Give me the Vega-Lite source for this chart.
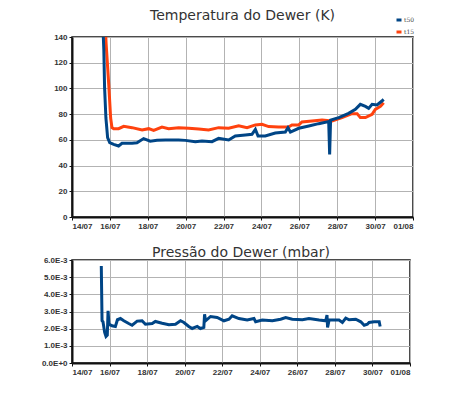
{
  "$schema": "https://vega.github.io/schema/vega-lite/v6.json",
  "background": "white",
  "padding": {"left": 40, "top": 8, "right": 5, "bottom": 5},
  "spacing": 14,
  "config": {
    "view": {"stroke": "#111", "strokeWidth": 1.5},
    "axis": {
      "labelFont": "Liberation Sans", "labelFontSize": 8, "labelFontWeight": "bold", "labelColor": "#333",
      "gridColor": "#b3b3b3", "gridWidth": 1, "domainColor": "#111", "domainWidth": 2,
      "tickColor": "#111", "tickSize": 3, "title": null
    },
    "title": {"font": "DejaVu Sans", "fontSize": 14, "fontWeight": "normal", "color": "#333"}
  },
  "datasets": {
    "temp": [
      {"serie": "t15", "dia": 15.72, "temp": 160},
      {"serie": "t15", "dia": 15.8, "temp": 135},
      {"serie": "t15", "dia": 15.94, "temp": 103},
      {"serie": "t15", "dia": 16.04, "temp": 77},
      {"serie": "t15", "dia": 16.11, "temp": 69.5},
      {"serie": "t15", "dia": 16.2, "temp": 68.7},
      {"serie": "t15", "dia": 16.46, "temp": 68.7},
      {"serie": "t15", "dia": 16.73, "temp": 70.5},
      {"serie": "t15", "dia": 17.17, "temp": 69.5},
      {"serie": "t15", "dia": 17.7, "temp": 67.7},
      {"serie": "t15", "dia": 18.05, "temp": 68.7},
      {"serie": "t15", "dia": 18.31, "temp": 67.4},
      {"serie": "t15", "dia": 18.75, "temp": 70},
      {"serie": "t15", "dia": 19.1, "temp": 68.7},
      {"serie": "t15", "dia": 19.63, "temp": 69.5},
      {"serie": "t15", "dia": 20.16, "temp": 69},
      {"serie": "t15", "dia": 20.69, "temp": 68.4},
      {"serie": "t15", "dia": 21.21, "temp": 67.7},
      {"serie": "t15", "dia": 21.74, "temp": 69.5},
      {"serie": "t15", "dia": 22.27, "temp": 69},
      {"serie": "t15", "dia": 22.8, "temp": 71},
      {"serie": "t15", "dia": 23.24, "temp": 69.5},
      {"serie": "t15", "dia": 23.68, "temp": 71.6},
      {"serie": "t15", "dia": 24.03, "temp": 72.1},
      {"serie": "t15", "dia": 24.38, "temp": 70.3},
      {"serie": "t15", "dia": 24.9, "temp": 70},
      {"serie": "t15", "dia": 25.43, "temp": 70},
      {"serie": "t15", "dia": 25.61, "temp": 71.6},
      {"serie": "t15", "dia": 25.97, "temp": 71.6},
      {"serie": "t15", "dia": 26.14, "temp": 73.9},
      {"serie": "t15", "dia": 26.67, "temp": 74.7},
      {"serie": "t15", "dia": 27.2, "temp": 75.4},
      {"serie": "t15", "dia": 27.73, "temp": 74.7},
      {"serie": "t15", "dia": 28.25, "temp": 77.3},
      {"serie": "t15", "dia": 28.78, "temp": 80.4},
      {"serie": "t15", "dia": 29.05, "temp": 80.4},
      {"serie": "t15", "dia": 29.22, "temp": 77.3},
      {"serie": "t15", "dia": 29.49, "temp": 77.3},
      {"serie": "t15", "dia": 29.84, "temp": 79.9},
      {"serie": "t15", "dia": 30.01, "temp": 83.7},
      {"serie": "t15", "dia": 30.28, "temp": 86},
      {"serie": "t15", "dia": 30.45, "temp": 88.9},
      {"serie": "t50", "dia": 15.6, "temp": 160},
      {"serie": "t50", "dia": 15.68, "temp": 130},
      {"serie": "t50", "dia": 15.72, "temp": 100.6},
      {"serie": "t50", "dia": 15.79, "temp": 77},
      {"serie": "t50", "dia": 15.88, "temp": 61.7},
      {"serie": "t50", "dia": 15.99, "temp": 57.8},
      {"serie": "t50", "dia": 16.2, "temp": 56.5},
      {"serie": "t50", "dia": 16.46, "temp": 55.2},
      {"serie": "t50", "dia": 16.64, "temp": 57.3},
      {"serie": "t50", "dia": 17.17, "temp": 57.3},
      {"serie": "t50", "dia": 17.43, "temp": 57.8},
      {"serie": "t50", "dia": 17.78, "temp": 61},
      {"serie": "t50", "dia": 18.13, "temp": 59},
      {"serie": "t50", "dia": 18.49, "temp": 59.6},
      {"serie": "t50", "dia": 18.93, "temp": 59.9},
      {"serie": "t50", "dia": 19.63, "temp": 59.9},
      {"serie": "t50", "dia": 19.98, "temp": 59.6},
      {"serie": "t50", "dia": 20.51, "temp": 58.6},
      {"serie": "t50", "dia": 20.86, "temp": 59.1},
      {"serie": "t50", "dia": 21.39, "temp": 58.6},
      {"serie": "t50", "dia": 21.74, "temp": 61.2},
      {"serie": "t50", "dia": 22.27, "temp": 59.9},
      {"serie": "t50", "dia": 22.62, "temp": 63},
      {"serie": "t50", "dia": 23.15, "temp": 63.8},
      {"serie": "t50", "dia": 23.5, "temp": 64.3},
      {"serie": "t50", "dia": 23.68, "temp": 68.2},
      {"serie": "t50", "dia": 23.82, "temp": 63},
      {"serie": "t50", "dia": 24.2, "temp": 63},
      {"serie": "t50", "dia": 24.73, "temp": 65.3},
      {"serie": "t50", "dia": 25.26, "temp": 66.1},
      {"serie": "t50", "dia": 25.4, "temp": 69.5},
      {"serie": "t50", "dia": 25.53, "temp": 66.1},
      {"serie": "t50", "dia": 25.97, "temp": 69},
      {"serie": "t50", "dia": 26.5, "temp": 70.8},
      {"serie": "t50", "dia": 27.02, "temp": 72.6},
      {"serie": "t50", "dia": 27.55, "temp": 74.2},
      {"serie": "t50", "dia": 27.6, "temp": 48.7},
      {"serie": "t50", "dia": 27.65, "temp": 75.4},
      {"serie": "t50", "dia": 28.08, "temp": 77.3},
      {"serie": "t50", "dia": 28.6, "temp": 80.6},
      {"serie": "t50", "dia": 28.96, "temp": 83.7},
      {"serie": "t50", "dia": 29.22, "temp": 87.6},
      {"serie": "t50", "dia": 29.49, "temp": 86},
      {"serie": "t50", "dia": 29.66, "temp": 84.5},
      {"serie": "t50", "dia": 29.84, "temp": 87.6},
      {"serie": "t50", "dia": 30.1, "temp": 87.1},
      {"serie": "t50", "dia": 30.36, "temp": 90.2},
      {"serie": "t50", "dia": 30.45, "temp": 91.5}
    ],
    "pressao": [
      {"dia": 15.56, "p": 0.00565},
      {"dia": 15.6, "p": 0.00246},
      {"dia": 15.65, "p": 0.0024},
      {"dia": 15.74, "p": 0.00178},
      {"dia": 15.81, "p": 0.00155},
      {"dia": 15.88, "p": 0.00163},
      {"dia": 15.92, "p": 0.00304},
      {"dia": 15.97, "p": 0.00226},
      {"dia": 16.13, "p": 0.00217},
      {"dia": 16.31, "p": 0.00213},
      {"dia": 16.42, "p": 0.00252},
      {"dia": 16.58, "p": 0.00259},
      {"dia": 16.76, "p": 0.00246},
      {"dia": 17.02, "p": 0.0023},
      {"dia": 17.2, "p": 0.0022},
      {"dia": 17.47, "p": 0.00244},
      {"dia": 17.73, "p": 0.00246},
      {"dia": 17.91, "p": 0.00226},
      {"dia": 18.27, "p": 0.0023},
      {"dia": 18.44, "p": 0.00242},
      {"dia": 18.8, "p": 0.00232},
      {"dia": 19.16, "p": 0.00223},
      {"dia": 19.51, "p": 0.00226},
      {"dia": 19.78, "p": 0.00246},
      {"dia": 19.96, "p": 0.00236},
      {"dia": 20.22, "p": 0.00213},
      {"dia": 20.4, "p": 0.00201},
      {"dia": 20.67, "p": 0.00213},
      {"dia": 20.84, "p": 0.00201},
      {"dia": 21.02, "p": 0.00207},
      {"dia": 21.06, "p": 0.00284},
      {"dia": 21.11, "p": 0.00246},
      {"dia": 21.38, "p": 0.00271},
      {"dia": 21.73, "p": 0.00265},
      {"dia": 22.09, "p": 0.00246},
      {"dia": 22.36, "p": 0.00255},
      {"dia": 22.53, "p": 0.00275},
      {"dia": 22.89, "p": 0.00259},
      {"dia": 23.33, "p": 0.0025},
      {"dia": 23.69, "p": 0.00259},
      {"dia": 23.78, "p": 0.0024},
      {"dia": 24.13, "p": 0.0025},
      {"dia": 24.67, "p": 0.00246},
      {"dia": 25.11, "p": 0.00255},
      {"dia": 25.38, "p": 0.00265},
      {"dia": 25.73, "p": 0.00255},
      {"dia": 26.27, "p": 0.00252},
      {"dia": 26.62, "p": 0.00259},
      {"dia": 27.16, "p": 0.0025},
      {"dia": 27.51, "p": 0.00246},
      {"dia": 27.58, "p": 0.00279},
      {"dia": 27.61, "p": 0.00207},
      {"dia": 27.69, "p": 0.0025},
      {"dia": 28.22, "p": 0.0025},
      {"dia": 28.4, "p": 0.00236},
      {"dia": 28.58, "p": 0.00261},
      {"dia": 28.76, "p": 0.00252},
      {"dia": 29.11, "p": 0.00255},
      {"dia": 29.38, "p": 0.0024},
      {"dia": 29.56, "p": 0.0022},
      {"dia": 29.73, "p": 0.00226},
      {"dia": 29.82, "p": 0.00236},
      {"dia": 30.09, "p": 0.0024},
      {"dia": 30.36, "p": 0.0024},
      {"dia": 30.41, "p": 0.00213}
    ]
  },
  "vconcat": [
    {
      "title": {"text": "Temperatura do Dewer (K)", "offset": 10},
      "width": 341,
      "height": 180,
      "data": {"name": "temp"},
      "encoding": {
        "x": {
          "field": "dia", "type": "quantitative",
          "scale": {"domain": [14, 32], "nice": false, "zero": false},
          "axis": {"values": [14, 16, 18, 20, 22, 24, 26, 28, 30, 32],
                   "labelExpr": "datum.value > 31 ? '01/08' : datum.value + '/07'"}
        },
        "y": {
          "field": "temp", "type": "quantitative",
          "scale": {"domain": [0, 140], "nice": false},
          "axis": {"values": [0, 20, 40, 60, 80, 100, 120, 140]}
        },
        "color": {
          "field": "serie", "type": "nominal",
          "scale": {"domain": ["t50", "t15"], "range": ["#004586", "#ff420e"]},
          "legend": {
            "orient": "none", "legendX": 323, "legendY": -21, "title": null,
            "symbolType": "stroke", "symbolStrokeWidth": 3, "symbolSize": 25,
            "labelFont": "DejaVu Serif", "labelFontSize": 6, "labelColor": "#444",
            "rowPadding": 0, "labelOffset": 1, "padding": 0, "labelLimit": 30
          }
        }
      },
      "layer": [
        {"transform": [{"filter": "datum.serie == 't15'"}],
         "mark": {"type": "line", "strokeWidth": 3, "clip": true}},
        {"transform": [{"filter": "datum.serie == 't50'"}],
         "mark": {"type": "line", "strokeWidth": 3, "clip": true}}
      ]
    },
    {
      "title": {"text": "Pressão do Dewer (mbar)", "offset": -4},
      "width": 338,
      "height": 103,
      "data": {"name": "pressao"},
      "mark": {"type": "line", "strokeWidth": 3, "color": "#004586", "clip": true},
      "encoding": {
        "x": {
          "field": "dia", "type": "quantitative",
          "scale": {"domain": [14, 32], "nice": false, "zero": false},
          "axis": {"values": [14, 16, 18, 20, 22, 24, 26, 28, 30, 32],
                   "labelExpr": "datum.value > 31 ? '01/08' : datum.value + '/07'"}
        },
        "y": {
          "field": "p", "type": "quantitative",
          "scale": {"domain": [0, 0.006], "nice": false},
          "axis": {"values": [0, 0.001, 0.002, 0.003, 0.004, 0.005, 0.006],
                   "labelExpr": "datum.value == 0 ? '0.0E+0' : format(datum.value * 1000, '.1f') + 'E-3'"}
        }
      }
    }
  ]
}
